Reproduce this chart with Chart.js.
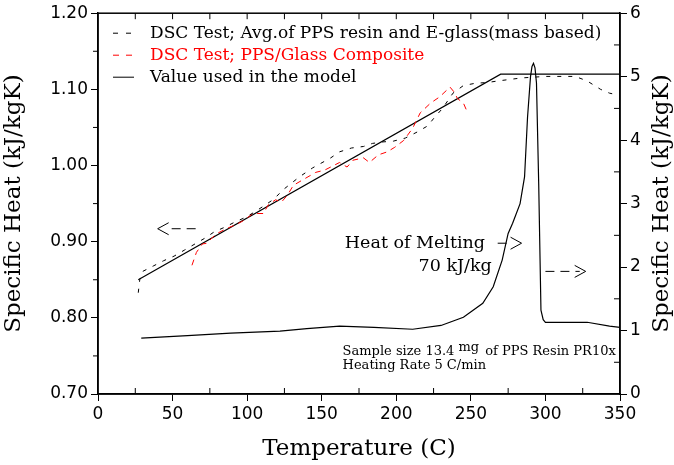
<!DOCTYPE html>
<html>
<head>
<meta charset="utf-8">
<script src="https://cdn.jsdelivr.net/npm/chart.js@4.4.0/dist/chart.umd.min.js"></script>
<style>
  body { margin: 0; background: #fff; }
  canvas { display: block; }
</style>
</head>
<body>
<canvas id="cpChart" width="674" height="465"></canvas>
<script>
// DSC test, average of PPS resin and E-glass (mass based)
const avgTemp = [27, 28, 30, 37, 44, 51, 58, 65, 72, 78, 85, 92, 99, 105, 112, 118, 124, 135, 144, 156, 162, 170, 178, 184, 191, 198, 206, 214, 221, 226, 231, 238, 245, 253, 261, 268, 276, 284, 300, 320, 328, 337, 343, 350];
const avgCp = [0.833, 0.850, 0.861, 0.868, 0.875, 0.881, 0.889, 0.897, 0.905, 0.913, 0.919, 0.926, 0.932, 0.939, 0.948, 0.956, 0.968, 0.985, 0.997, 1.010, 1.018, 1.023, 1.025, 1.029, 1.031, 1.032, 1.036, 1.044, 1.052, 1.064, 1.075, 1.095, 1.105, 1.108, 1.109, 1.111, 1.113, 1.115, 1.117, 1.117, 1.111, 1.100, 1.095, 1.092];

// DSC test, PPS/glass composite
const compTemp = [63, 66, 70, 73, 77, 80, 86, 92, 97, 104, 111, 114, 119, 123, 127, 131, 138, 146, 152, 158, 162, 167, 171, 178, 182, 188, 194, 199, 205, 211, 216, 223, 229, 236, 239, 241, 245, 247];
const compCp = [0.869, 0.886, 0.897, 0.898, 0.906, 0.911, 0.917, 0.922, 0.927, 0.937, 0.937, 0.948, 0.955, 0.952, 0.961, 0.974, 0.982, 0.991, 0.994, 1.000, 1.004, 0.998, 1.007, 1.010, 1.004, 1.014, 1.018, 1.024, 1.033, 1.049, 1.069, 1.082, 1.090, 1.103, 1.096, 1.088, 1.082, 1.073];

// value used in the model
const modelTemp = [27, 270, 350];
const modelCp = [0.85, 1.12, 1.12];

// melting curve, right axis
const meltTemp = [29, 60, 89, 122, 140, 162, 185, 211, 230, 245, 258, 265, 271, 275, 278, 283, 286, 288, 290, 291, 292, 293, 294, 295.5, 297, 298.5, 300, 328, 343, 350];
const meltCp = [0.88, 0.92, 0.96, 0.99, 1.03, 1.07, 1.05, 1.02, 1.08, 1.21, 1.43, 1.69, 2.11, 2.53, 2.69, 3.0, 3.42, 4.36, 5.0, 5.16, 5.21, 5.14, 4.9, 3.3, 1.32, 1.17, 1.13, 1.13, 1.07, 1.05];

const legendLabels = [
  "DSC Test; Avg.of PPS resin and E-glass(mass based)",
  "DSC Test; PPS/Glass Composite",
  "Value used in the model",
];
const yTitle = "Specific Heat (kJ/kgK)";

const serif = "'DejaVu Serif', 'Liberation Serif', serif";
const sans = "'DejaVu Sans', 'Liberation Sans', sans-serif";

function pts(xs, ys) {
  return xs.map((x, i) => ({ x: x, y: ys[i] }));
}

function chevron(ctx, x, y, dir) {
  ctx.beginPath();
  ctx.moveTo(x - dir * 11, y - 6);
  ctx.lineTo(x, y);
  ctx.lineTo(x - dir * 11, y + 6);
  ctx.stroke();
}

// frame, minor ticks, legend and notes
const extras = {
  id: "extras",
  afterDraw(chart) {
    const ctx = chart.ctx;
    const a = chart.chartArea;
    const sx = chart.scales.x;
    const sy = chart.scales.y;
    const sy1 = chart.scales.y1;
    ctx.save();
    ctx.strokeStyle = "#000";
    ctx.lineWidth = 1.5;
    ctx.strokeRect(a.left, a.top, a.right - a.left, a.bottom - a.top);

    ctx.lineWidth = 1;
    ctx.beginPath();
    for (let t = 25; t < 350; t += 50) {
      const px = sx.getPixelForValue(t);
      ctx.moveTo(px, a.bottom);
      ctx.lineTo(px, a.bottom - 6);
    }
    for (let t = 25; t < 350; t += 25) {
      const px = sx.getPixelForValue(t);
      ctx.moveTo(px, a.top);
      ctx.lineTo(px, a.top + 6);
    }
    for (let v = 0.75; v < 1.2; v += 0.1) {
      const py = sy.getPixelForValue(v);
      ctx.moveTo(a.left, py);
      ctx.lineTo(a.left - 5, py);
    }
    for (let v = 0.5; v < 6; v += 1) {
      const py = sy1.getPixelForValue(v);
      ctx.moveTo(a.right, py);
      ctx.lineTo(a.right - 6, py);
    }
    ctx.stroke();

    // right axis title, reading upwards like the left one
    ctx.save();
    ctx.translate(662, (a.top + a.bottom) / 2);
    ctx.rotate(-Math.PI / 2);
    ctx.font = "23px " + serif;
    ctx.fillStyle = "#000";
    ctx.textAlign = "center";
    ctx.textBaseline = "middle";
    ctx.fillText(yTitle, 0, 0);
    ctx.restore();

    // legend
    ctx.font = "17px " + serif;
    ctx.textBaseline = "middle";
    const styles = [
      { color: "#000", dash: [5, 8] },
      { color: "#ff0000", dash: [6, 7] },
      { color: "#000", dash: [] },
    ];
    legendLabels.forEach((label, i) => {
      const y = a.top + 20 + i * 22;
      ctx.strokeStyle = styles[i].color;
      ctx.setLineDash(styles[i].dash);
      ctx.beginPath();
      ctx.moveTo(a.left + 15, y);
      ctx.lineTo(a.left + 36, y);
      ctx.stroke();
      ctx.setLineDash([]);
      ctx.fillStyle = styles[i].color;
      ctx.fillText(label, a.left + 52, y);
    });

    // arrows
    ctx.strokeStyle = "#000";
    ctx.lineWidth = 1;
    const x0 = sx.getPixelForValue(40);
    const yA = sy.getPixelForValue(0.917);
    chevron(ctx, x0, yA, -1);
    ctx.setLineDash([9, 6]);
    ctx.beginPath();
    ctx.moveTo(x0 + 14, yA);
    ctx.lineTo(sx.getPixelForValue(66), yA);
    ctx.stroke();

    const yB = sy.getPixelForValue(0.898);
    ctx.setLineDash([]);
    ctx.beginPath();
    ctx.moveTo(sx.getPixelForValue(268), yB);
    ctx.lineTo(sx.getPixelForValue(274), yB);
    ctx.stroke();
    chevron(ctx, sx.getPixelForValue(284), yB, 1);

    const yC = sy.getPixelForValue(0.861);
    ctx.setLineDash([9, 6]);
    ctx.beginPath();
    ctx.moveTo(sx.getPixelForValue(300), yC);
    ctx.lineTo(sx.getPixelForValue(323), yC);
    ctx.stroke();
    ctx.setLineDash([]);
    chevron(ctx, sx.getPixelForValue(327), yC, 1);

    // notes
    ctx.fillStyle = "#000";
    ctx.font = "17.5px " + serif;
    ctx.textAlign = "right";
    ctx.fillText("Heat of Melting", sx.getPixelForValue(259.5), yB);
    ctx.fillText("70 kJ/kg", sx.getPixelForValue(264), sy.getPixelForValue(0.868));

    ctx.textAlign = "left";
    ctx.font = "13px " + serif;
    let nx = sx.getPixelForValue(164);
    const ny = sy.getPixelForValue(0.755);
    const part1 = "Sample size 13.4 ";
    ctx.fillText(part1, nx, ny);
    nx += ctx.measureText(part1).width;
    ctx.fillText("mg", nx, ny - 4);
    nx += ctx.measureText("mg ").width + 2;
    ctx.fillText("of PPS Resin PR10x", nx, ny);
    ctx.fillText("Heating Rate 5 C/min", sx.getPixelForValue(164), sy.getPixelForValue(0.737));
    ctx.restore();
  },
};

const tickFont = { family: sans, size: 17 };
const titleFont = { family: serif, size: 23 };

new Chart(document.getElementById("cpChart"), {
  type: "line",
  data: {
    datasets: [
      {
        label: legendLabels[0],
        data: pts(avgTemp, avgCp),
        borderColor: "#000",
        borderWidth: 1,
        borderDash: [4, 7],
        pointRadius: 0,
        yAxisID: "y",
      },
      {
        label: legendLabels[1],
        data: pts(compTemp, compCp),
        borderColor: "#ff0000",
        borderWidth: 1,
        borderDash: [6, 5],
        pointRadius: 0,
        yAxisID: "y",
      },
      {
        label: legendLabels[2],
        data: pts(modelTemp, modelCp),
        borderColor: "#000",
        borderWidth: 1.2,
        pointRadius: 0,
        yAxisID: "y",
      },
      {
        label: "Melting",
        data: pts(meltTemp, meltCp),
        borderColor: "#000",
        borderWidth: 1.2,
        pointRadius: 0,
        yAxisID: "y1",
      },
    ],
  },
  options: {
    responsive: false,
    animation: false,
    layout: { padding: { top: 13, left: 0, right: 0, bottom: 0 } },
    plugins: {
      legend: { display: false },
      tooltip: { enabled: false },
    },
    scales: {
      x: {
        type: "linear",
        min: 0,
        max: 350,
        ticks: { stepSize: 50, color: "#000", font: tickFont, padding: 3, maxRotation: 0 },
        grid: { drawOnChartArea: false, color: "#000", tickLength: 7 },
        border: { color: "#000", width: 1.5 },
        title: { display: true, text: "Temperature (C)", color: "#000", font: titleFont, padding: { top: 0, bottom: 2 } },
        afterFit: (s) => { s.height = 71; },
      },
      y: {
        position: "left",
        min: 0.7,
        max: 1.2,
        ticks: { stepSize: 0.1, color: "#000", font: tickFont, padding: 3, callback: (v) => v.toFixed(2) },
        grid: { drawOnChartArea: false, color: "#000", tickLength: 7 },
        border: { color: "#000", width: 1.5 },
        title: { display: true, text: yTitle, color: "#000", font: titleFont, padding: { top: 0, bottom: 4 } },
        afterFit: (s) => { s.width = 98; },
      },
      y1: {
        position: "right",
        min: 0,
        max: 6,
        ticks: { stepSize: 1, color: "#000", font: tickFont, padding: 3 },
        grid: { drawOnChartArea: false, color: "#000", tickLength: 7 },
        border: { color: "#000", width: 1.5 },
        title: { display: false },
        afterFit: (s) => { s.width = 54; },
      },
    },
  },
  plugins: [extras],
});
</script>
</body>
</html>
